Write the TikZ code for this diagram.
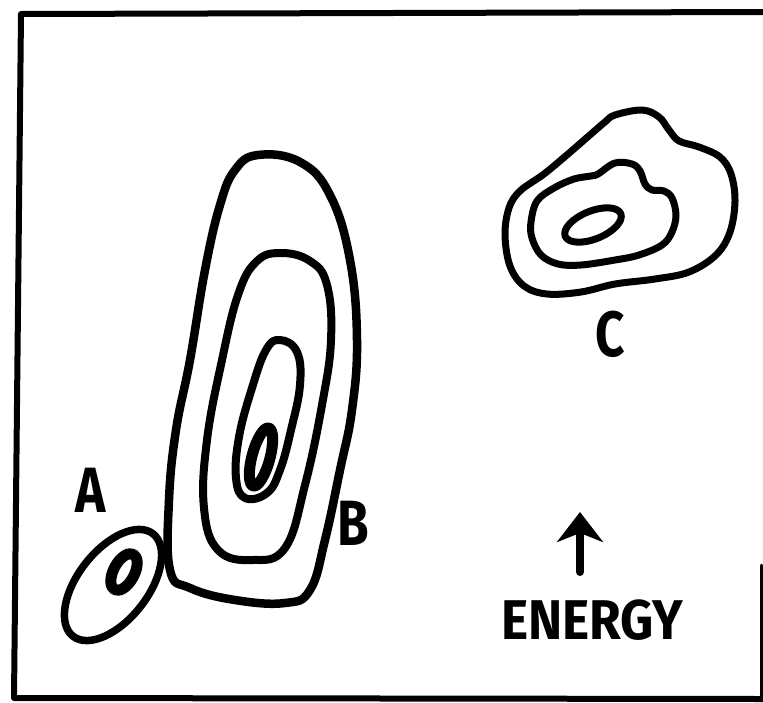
\documentclass[tikz,border=0pt]{standalone}
\usepackage{fontspec}
\setmainfont{Fira Sans}
\usetikzlibrary{arrows.meta}
\begin{document}
\begin{tikzpicture}[x=1pt,y=-1pt,line cap=round,line join=round,
  contour/.style={draw=black,line width=8pt},
  thinframe/.style={draw=black,line width=6pt},
  lbl/.style={font=\fontsize{64}{64}\selectfont\bfseries,inner sep=0pt,xscale=0.8},
  energylbl/.style={font=\fontsize{56}{56}\selectfont\bfseries,inner sep=0pt,xscale=0.92}]
\useasboundingbox (0,0) rectangle (763,702);
% frame
\coordinate (ftr) at (763,12);
\coordinate (ftl) at (21,14);
\coordinate (fbl) at (14,698);
\coordinate (fbr) at (763,699);
\coordinate (frt) at (761,565);
\draw[thinframe,line cap=butt] (ftr) -- (ftl) -- (fbl) -- (fbr);
\draw[draw=black,line width=3pt] (frt) -- (761,699);
% B contours
\draw[contour,line width=8.5pt] plot[smooth cycle,tension=0.7] coordinates {
 (258,155) (300,162) (330,195) (350,260) (357,340) (352,410) (340,470) (325,540) (310,590) (285,603) (235,600) (190,588) (170,570) (169,500) (176,430) (190,360) (205,270) (220,205) (235,170)};
\draw[contour] plot[smooth cycle,tension=0.7] coordinates {
 (280,253) (310,261) (327,285) (331,340) (322,405) (305,485) (285,548) (252,560) (218,550) (204,508) (207,440) (222,360) (238,295) (256,262)};
\draw[contour] plot[smooth cycle,tension=0.7] coordinates {
 (280,340) (297,352) (300,385) (291,430) (280,470) (267,493) (245,498) (236,478) (239,437) (252,388) (266,350)};
\coordinate (bcore) at (261,457);
\draw[draw=black,line width=11pt,rotate around={75:(bcore)}] (bcore) ellipse (30 and 9);
% A
\coordinate (acen) at (113,585);
\draw[draw=black,line width=7.5pt,rotate around={52:(acen)}] (acen) ellipse (65 and 35);
\coordinate (azero) at (124,572);
\draw[draw=black,line width=11pt,rotate around={62:(azero)}] (azero) ellipse (20 and 10.5);
% C contours
\draw[draw=black,line width=7pt] plot[smooth cycle,tension=0.6] coordinates {
 (615,115) (642,110) (659,117) (669,130) (679,141) (699,147) (720,157) (731,174) (735,201) (730,232) (716,255) (689,272) (655,279) (615,284) (581,292) (547,294) (524,286) (510,266) (505,235) (509,208) (520,191) (544,174) (568,154) (591,134) (605,122)};
\draw[draw=black,line width=7pt] plot[smooth cycle,tension=0.6] coordinates {
 (598,174) (615,163) (632,164) (640,171) (645,184) (652,190) (664,191) (672,198) (676,215) (672,232) (662,245) (639,255) (615,260) (581,265) (558,264) (541,255) (532,238) (531,222) (537,201) (554,188) (574,179) (591,176)};
\coordinate (ccen) at (593,225);
\draw[draw=black,line width=7pt,rotate around={22:(ccen)}] (ccen) ellipse (30 and 14);
% labels
\node[lbl] (la) at (91,490) {A};
\node[lbl] (lb) at (353,523) {B};
\node[lbl] (lc) at (610,334) {C};
% arrow and energy
\coordinate (arrtail) at (580,572);
\coordinate (arrhead) at (580,512);
\draw[draw=black,line width=8pt,-{Stealth[length=30pt,width=46pt,inset=9pt]}] (arrtail) -- (arrhead);
\node[energylbl] (en) at (592,620) {ENERGY};
\end{tikzpicture}
\end{document}
